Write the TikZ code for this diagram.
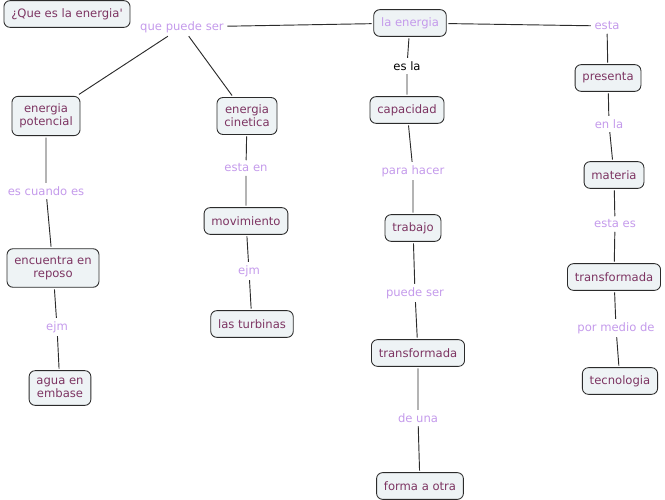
\documentclass[tikz,border=0pt]{standalone}
\usepackage{fontspec}
\setmainfont{DejaVu Sans}

\definecolor{boxfill}{HTML}{EEF3F5}
\definecolor{boxtext}{HTML}{7D3462}
\definecolor{linktext}{HTML}{C49AEB}
\definecolor{edge}{HTML}{2B2B2B}

\tikzset{
  concept/.style={draw=edge, fill=boxfill, text=boxtext, rounded corners=4.5pt,
    align=center, inner xsep=5.5pt, inner ysep=5.5pt, outer sep=1.5pt,
    minimum height=20pt, line width=0.65pt, font=\fontsize{8.7}{10}\selectfont},
  link/.style={text=linktext, inner sep=2.5pt, font=\fontsize{8.7}{10}\selectfont},
  conn/.style={draw=edge, line width=0.7pt}
}

\begin{document}
\begin{tikzpicture}[x=0.75pt,y=-0.75pt]
  \useasboundingbox (0,0) rectangle (665,500);

  % boxes
  \node[concept] (title) at (67,14) {¿Que es la energia\textquotesingle};
  \node[concept,text=linktext] (ener) at (410,23) {la energia};
  \node[concept] (pot) at (46,116) {energia\\potencial};
  \node[concept] (cin) at (247,116) {energia\\cinetica};
  \node[concept] (capa) at (407,110) {capacidad};
  \node[concept] (pres) at (608,78) {presenta};
  \node[concept] (mat) at (614,175) {materia};
  \node[concept] (transR) at (614,277) {transformada};
  \node[concept] (tecno) at (620,381) {tecnologia};
  \node[concept] (repo) at (53,268) {encuentra en\\reposo};
  \node[concept] (agua) at (60,388) {agua en\\embase};
  \node[concept] (movi) at (246,221) {movimiento};
  \node[concept] (turb) at (252,324) {las turbinas};
  \node[concept] (trab) at (413,228) {trabajo};
  \node[concept] (transM) at (418,353) {transformada};
  \node[concept] (forma) at (420,486) {forma a otra};

  % link words
  \node[link] (qps) at (182,27) {que puede ser};
  \node[link] (esta) at (607,26) {esta};
  \node[link,text=black] (esla) at (407,66) {es la};
  \node[link] (enla) at (609,124) {en la};
  \node[link] (estaes) at (615,224) {esta es};
  \node[link] (pmd) at (616,328) {por medio de};
  \node[link] (ece) at (46,191) {es cuando es};
  \node[link] (ejmA) at (57,327) {ejm};
  \node[link] (estaen) at (246,168) {esta en};
  \node[link] (ejmB) at (249,271) {ejm};
  \node[link] (phacer) at (413,171) {para hacer};
  \node[link] (pser) at (415,293) {puede ser};
  \node[link] (deuna) at (418,418) {de una};

  % connectors
  \draw[conn] (ener) -- (qps);
  \draw[conn] (qps) -- (pot);
  \draw[conn] (qps) -- (cin);
  \draw[conn] (ener) -- (esta) -- (pres) -- (enla) -- (mat) -- (estaes) -- (transR) -- (pmd) -- (tecno);
  \draw[conn] (ener) -- (esla) -- (capa) -- (phacer) -- (trab) -- (pser) -- (transM) -- (deuna) -- (forma);
  \draw[conn] (pot) -- (ece) -- (repo) -- (ejmA) -- (agua);
  \draw[conn] (cin) -- (estaen) -- (movi) -- (ejmB) -- (turb);
\end{tikzpicture}
\end{document}
